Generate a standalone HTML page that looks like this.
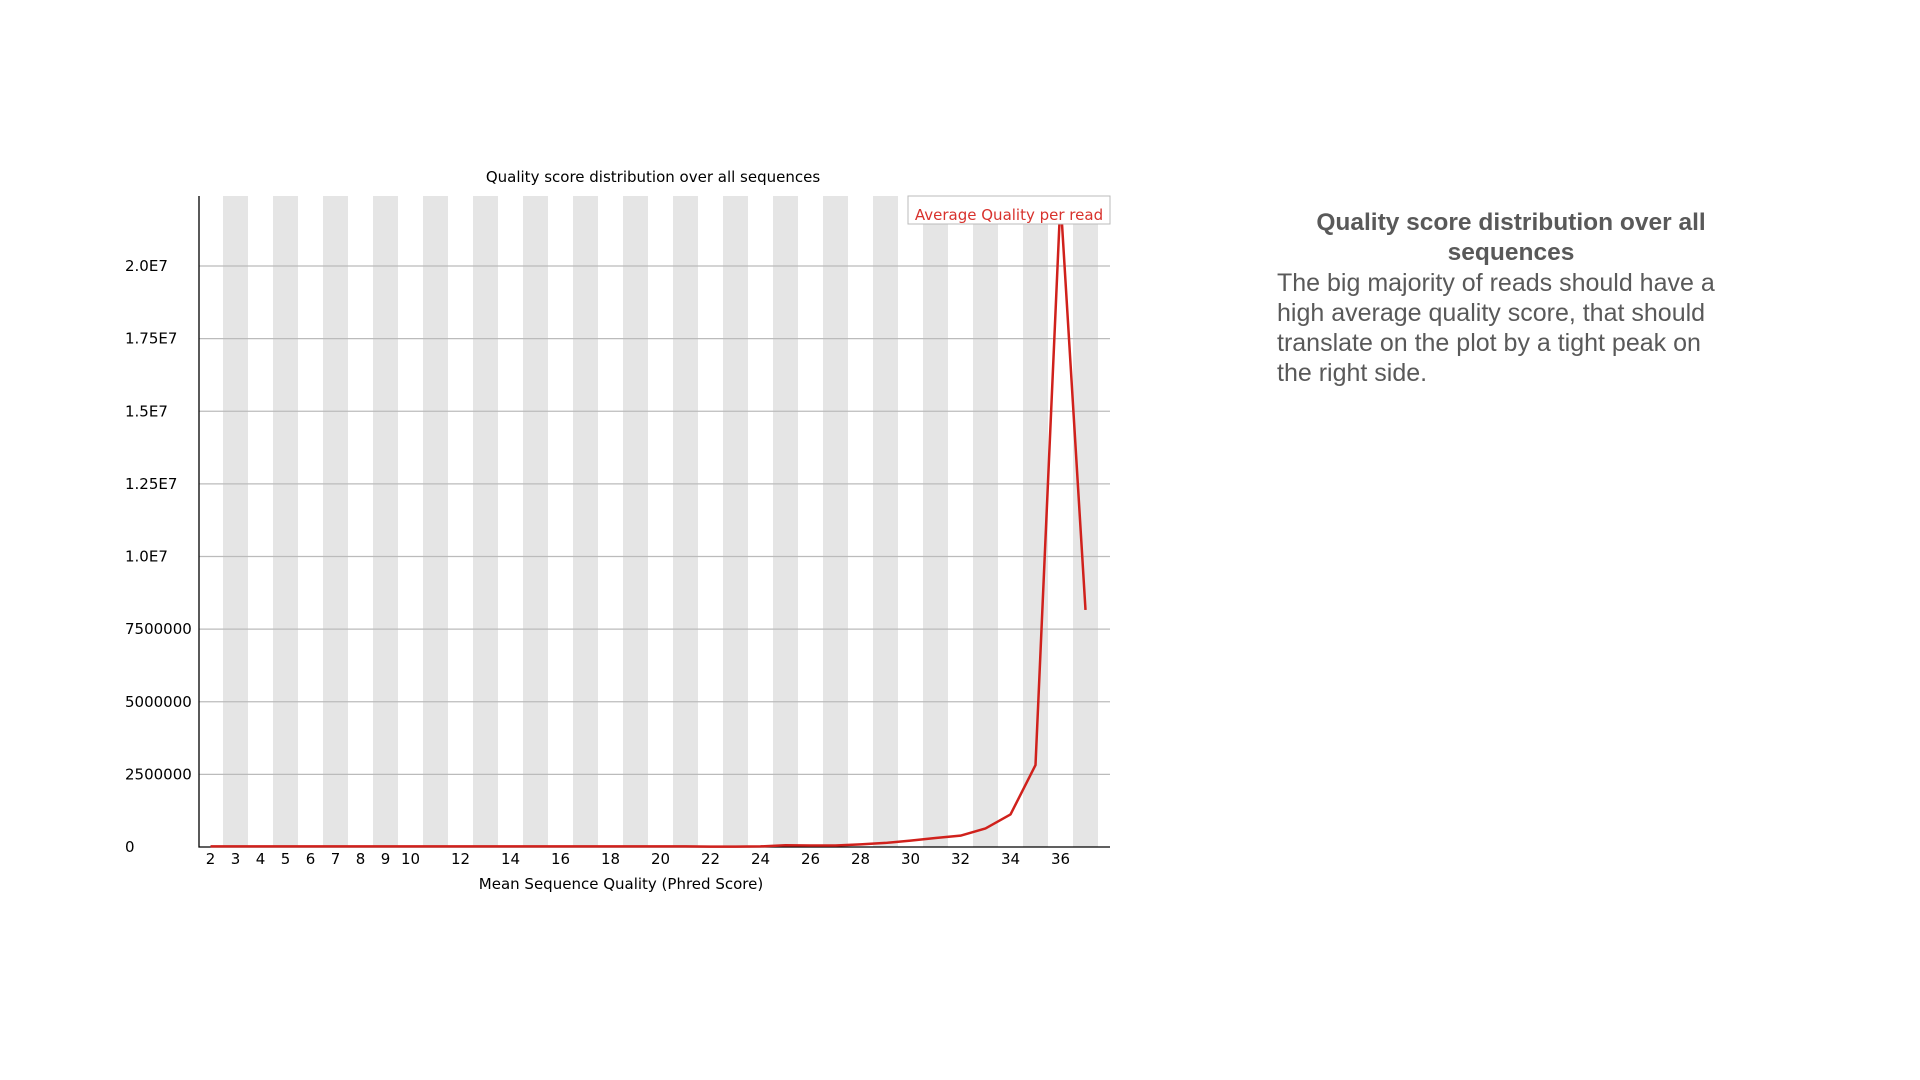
<!DOCTYPE html>
<html><head><meta charset="utf-8"><style>
body{margin:0;width:1920px;height:1080px;background:#fff;overflow:hidden;position:relative;font-family:"Liberation Sans",sans-serif}
#desc{position:absolute;left:1277px;top:208px;width:455px;color:#595959;font-size:25px;line-height:30px}
#desc h2{margin:0 0 0 -1px;width:470px;font-size:24.5px;line-height:30px;text-align:center;font-weight:bold}
#desc p{margin:0}
</style></head><body>
<svg id="chart" width="1920" height="1080" style="position:absolute;left:0;top:0" font-family="DejaVu Sans, sans-serif"></svg>
<div id="desc">
<h2>Quality score distribution over all sequences</h2>
<p>The big majority of reads should have a high average quality score, that should translate on the plot by a tight peak on the right side.</p>
</div>
<script>
const categories=[2,3,4,5,6,7,8,9,10,11,12,13,14,15,16,17,18,19,20,21,22,23,24,25,26,27,28,29,30,31,32,33,34,35,36,37];
const values=[20000,20000,20000,20000,20000,20000,20000,20000,20000,20000,20000,20000,20000,20000,20000,20000,20000,20000,20000,20000,15000,15000,20000,60000,50000,50000,90000,140000,220000,310000,390000,640000,1120000,2820000,22300000,8160000];
const yTicks=[0,2500000,5000000,7500000,10000000,12500000,15000000,17500000,20000000];
const yTickLabels=["0","2500000","5000000","7500000","1.0E7","1.25E7","1.5E7","1.75E7","2.0E7"];
const xTickLabels=["2","3","4","5","6","7","8","9","10","","12","","14","","16","","18","","20","","22","","24","","26","","28","","30","","32","","34","","36",""];
const NS="http://www.w3.org/2000/svg";
const svg=document.getElementById('chart');
const L=199,R=1110,T=196,B=847,Y0=847,YPER=581/20000000;
const cw=25,c0=210.5;
function xs(i){return c0+i*cw;}
function ys(v){return Y0-v*YPER;}
function mk(tag,attrs,parent){const e=document.createElementNS(NS,tag);for(const k in attrs)e.setAttribute(k,attrs[k]);(parent||svg).appendChild(e);return e;}
categories.forEach((c,i)=>{if(c%2===1){
const r=mk('rect',{x:xs(i)-cw/2,y:T,width:cw,height:B-T,fill:'#e5e5e5'});

}});
yTicks.forEach((v,i)=>{
if(v>0){const g=mk('line',{x1:L,x2:R,y1:ys(v),y2:ys(v),stroke:'#bbb','stroke-width':1.2});

}
const t=mk('text',{x:125,y:ys(v)+5,'text-anchor':'start','font-size':15,fill:'#000'});
t.textContent=yTickLabels[i];

});
const ax=mk('path',{d:`M${L} ${T} V${B} H${R}`,stroke:'#000',fill:'none','stroke-width':1.3});


categories.forEach((c,i)=>{if(!xTickLabels[i])return;
const t=mk('text',{x:xs(i),y:864,'text-anchor':'middle','font-size':15,fill:'#000'});
t.textContent=xTickLabels[i];

});
const pts=values.map((v,i)=>xs(i)+','+ys(v)).join(' ');
const ln=mk('polyline',{points:pts,fill:'none',stroke:'#d0211c','stroke-width':2.5,'stroke-linejoin':'round'});


const tt=mk('text',{x:653,y:182,'text-anchor':'middle','font-size':15,fill:'#000'});
tt.textContent='Quality score distribution over all sequences';


const xl=mk('text',{x:621,y:889,'text-anchor':'middle','font-size':15,fill:'#000'});
xl.textContent='Mean Sequence Quality (Phred Score)';


const lb=mk('rect',{x:908,y:196,width:202,height:28,fill:'#fff',stroke:'#bbb','stroke-width':1});


const lt=mk('text',{x:1009,y:220,'text-anchor':'middle','font-size':15,fill:'#d8322d'});
lt.textContent='Average Quality per read';


</script>
</body></html>
